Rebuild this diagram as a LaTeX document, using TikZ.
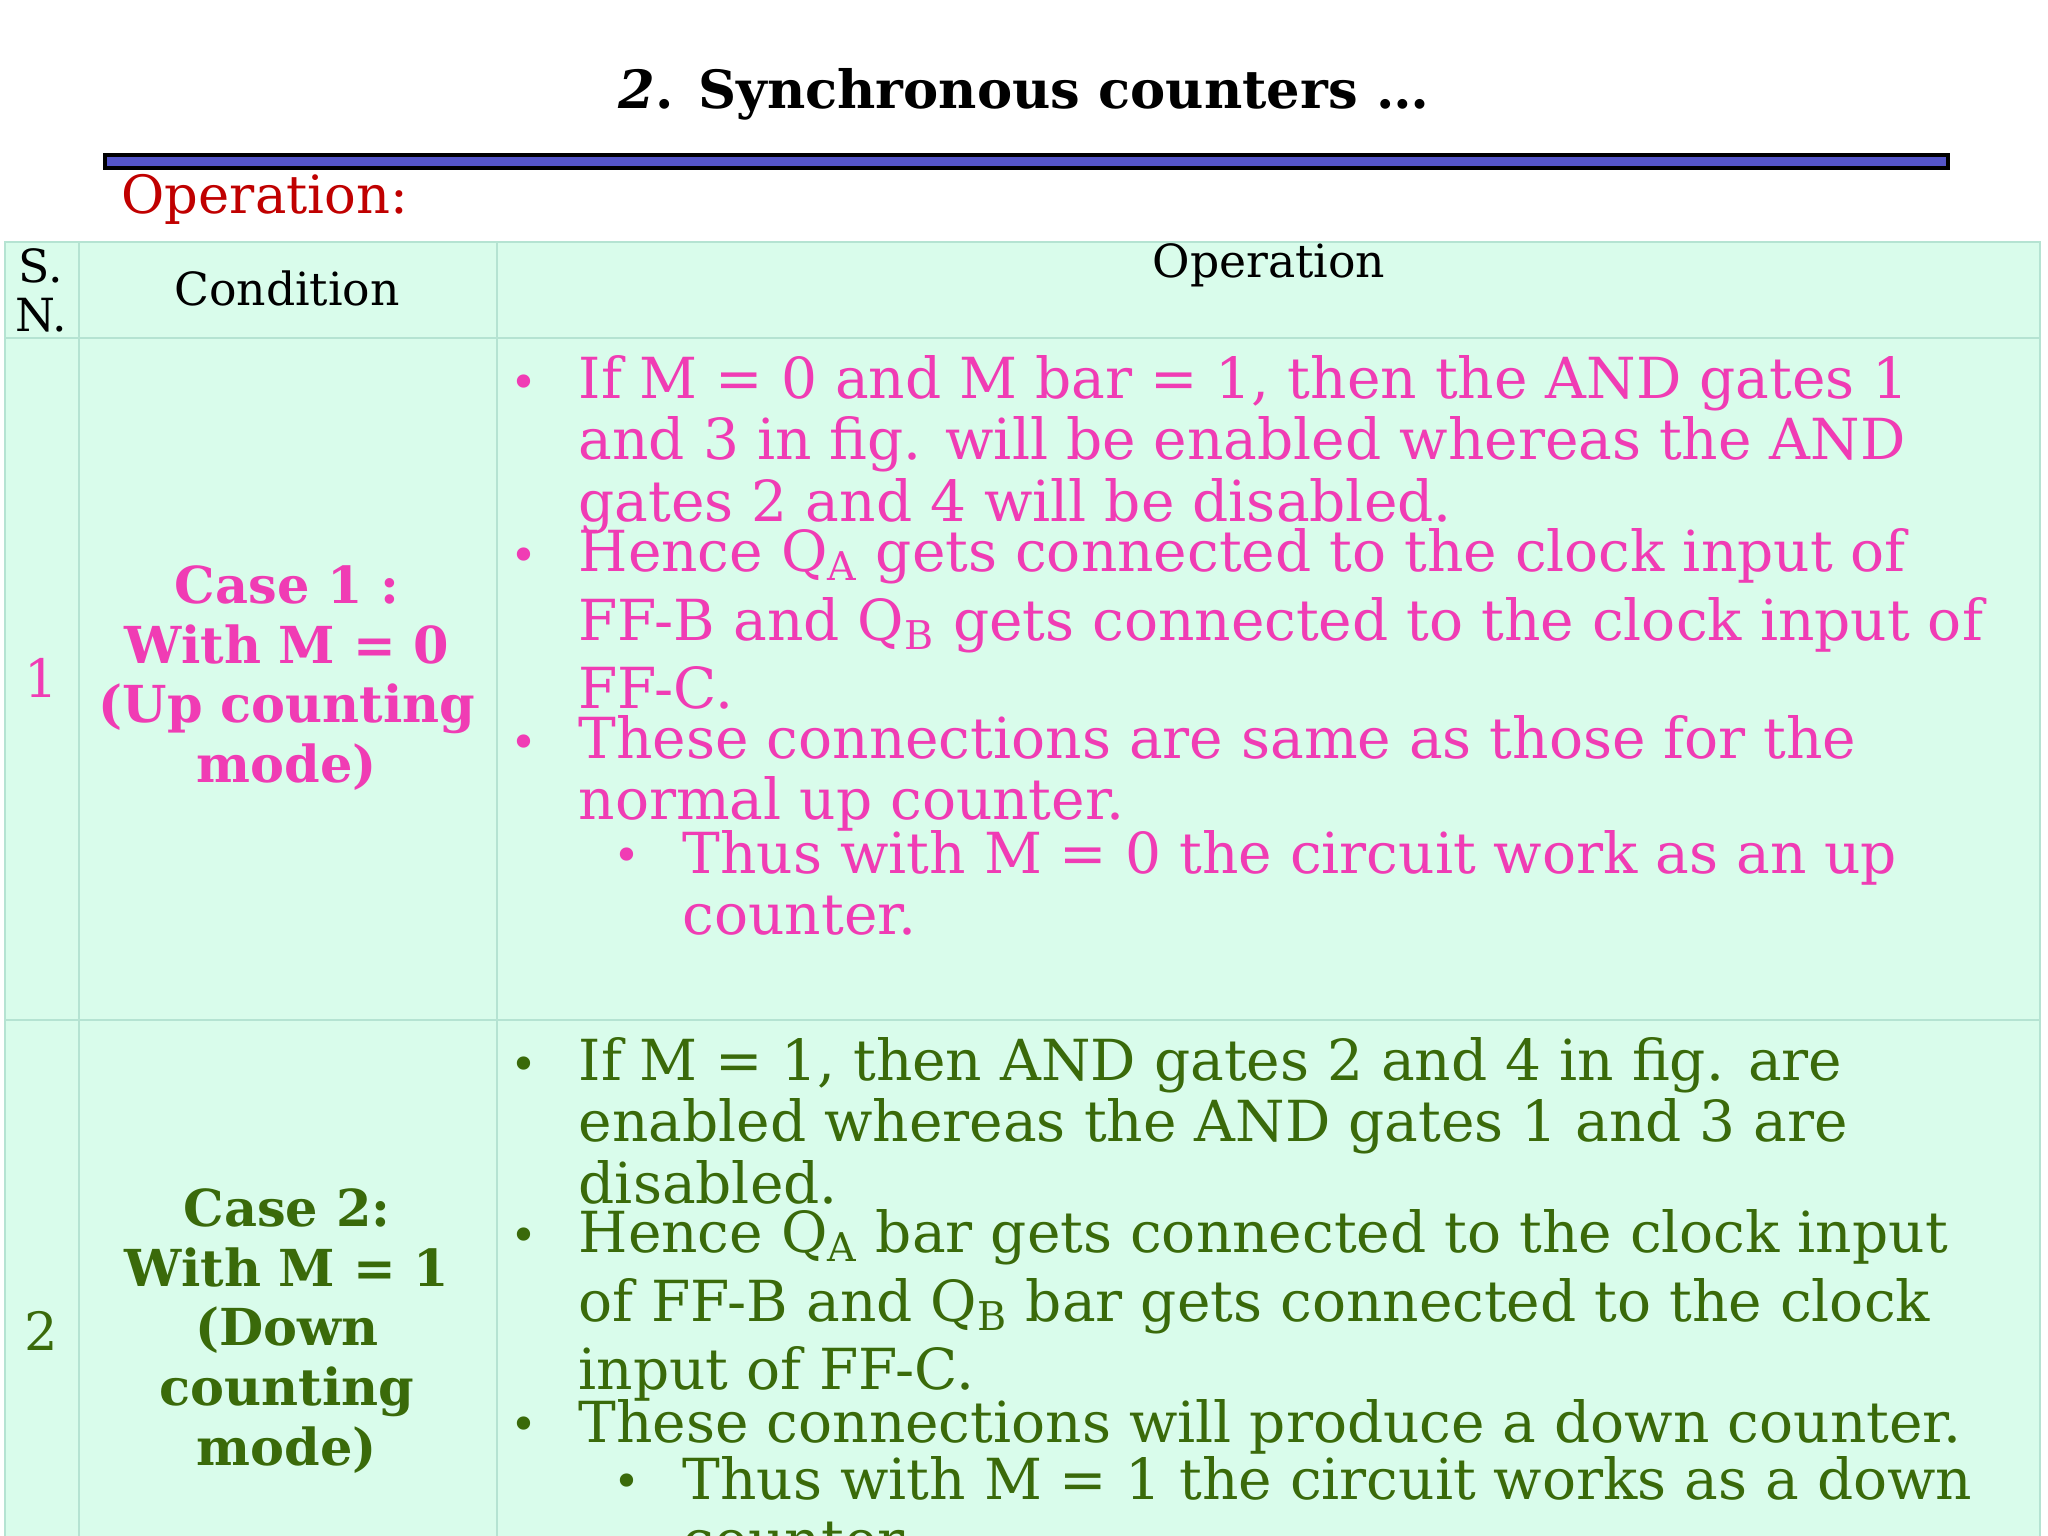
\documentclass[tikz,border=0pt]{standalone}
\usepackage{fontspec}
\setmainfont{DejaVu Serif}
\definecolor{mint}{HTML}{D9FCEB}
\definecolor{grid}{HTML}{B5E3D2}
\definecolor{pinkt}{HTML}{F03CB4}
\definecolor{greent}{HTML}{3A6A0A}
\definecolor{barc}{HTML}{5555C8}
\definecolor{redt}{HTML}{C00000}
\newcommand{\sbs}[1]{\textsubscript{#1}}
\tikzset{
 body/.style={anchor=north west,align=left,inner sep=0pt,font=\fontsize{16.1}{17.4}\selectfont},
 cond/.style={align=center,inner sep=0pt,font=\fontsize{14.5}{17}\selectfont\bfseries},
 hdr/.style={inner sep=0pt,font=\fontsize{13}{14}\selectfont},
 bul/.style={inner sep=0pt,font=\fontsize{13}{14}\selectfont}
}
\begin{document}
\begin{tikzpicture}[x=1cm,y=-1cm]
\useasboundingbox (0,0) rectangle (20.48,15.36);
\clip (0,0) rectangle (20.48,15.36);
\node[inner sep=0pt,font=\fontsize{15}{17}\selectfont\bfseries] (title) at (10.24,0.94) {\textit{2}. Synchronous counters …};
\draw[fill=barc,line width=1.2pt] (1.05,1.55) rectangle (19.48,1.68);
\node[anchor=west,inner sep=0pt,text=redt,font=\fontsize{15}{16}\selectfont] (op) at (1.21,1.99) {Operation:};
\fill[mint] (0.05,2.42) rectangle (20.4,15.6);
\draw[grid,line width=0.8pt] (0.05,2.42) rectangle (20.4,15.6)
 (0.05,3.38) -- (20.4,3.38) (0.05,10.2) -- (20.4,10.2)
 (0.79,2.42) -- (0.79,15.6) (4.97,2.42) -- (4.97,15.6);
\node[hdr,align=center,font=\fontsize{13}{14}\selectfont] (sn) at (0.41,2.9) {S.\\N.};
\node[hdr] (hc) at (2.87,2.88) {Condition};
\node[hdr] (ho) at (12.69,2.65) {Operation};
% row 1
\node[hdr,text=pinkt,font=\fontsize{15}{16}\selectfont] (n1) at (0.41,6.78) {1};
\node[cond,text=pinkt] (c1) at (2.87,6.78) {Case 1 :\\With M = 0\\(Up counting\\mode)};
\begin{scope}[text=pinkt]
\node[bul] at (5.24,3.87) {•};
\node[body] (b1) at (5.78,3.55) {If M = 0 and M bar = 1, then the AND gates 1\\and 3 in fig. will be enabled whereas the AND\\gates 2 and 4 will be disabled.};
\node[bul] at (5.24,5.6) {•};
\node[body,font=\fontsize{16.1}{19.5}\selectfont] (b2) at (5.78,5.28) {Hence Q\sbs{A} gets connected to the clock input of\\FF-B and Q\sbs{B} gets connected to the clock input of\\FF-C.};
\node[bul] at (5.24,7.47) {•};
\node[body] (b3) at (5.78,7.15) {These connections are same as those for the\\normal up counter.};
\node[bul] at (6.27,8.6) {•};
\node[body] (b4) at (6.82,8.3) {Thus with M = 0 the circuit work as an up\\counter.};
\end{scope}
% row 2
\node[hdr,text=greent,font=\fontsize{15}{16}\selectfont] (n2) at (0.41,13.31) {2};
\node[cond,text=greent] (c2) at (2.87,13.31) {Case 2:\\With M = 1\\(Down\\counting\\mode)};
\begin{scope}[text=greent]
\node[bul] at (5.24,10.69) {•};
\node[body] (d1) at (5.78,10.37) {If M = 1, then AND gates 2 and 4 in fig. are\\enabled whereas the AND gates 1 and 3 are\\disabled.};
\node[bul] at (5.24,12.4) {•};
\node[body,font=\fontsize{16.1}{19.5}\selectfont] (d2) at (5.78,12.09) {Hence Q\sbs{A} bar gets connected to the clock input\\of FF-B and Q\sbs{B} bar gets connected to the clock\\input of FF-C.};
\node[bul] at (5.24,14.29) {•};
\node[body] (d3) at (5.78,13.99) {These connections will produce a down counter.};
\node[bul] at (6.27,14.86) {•};
\node[body] (d4) at (6.82,14.56) {Thus with M = 1 the circuit works as a down\\counter.};
\end{scope}
\end{tikzpicture}
\end{document}
